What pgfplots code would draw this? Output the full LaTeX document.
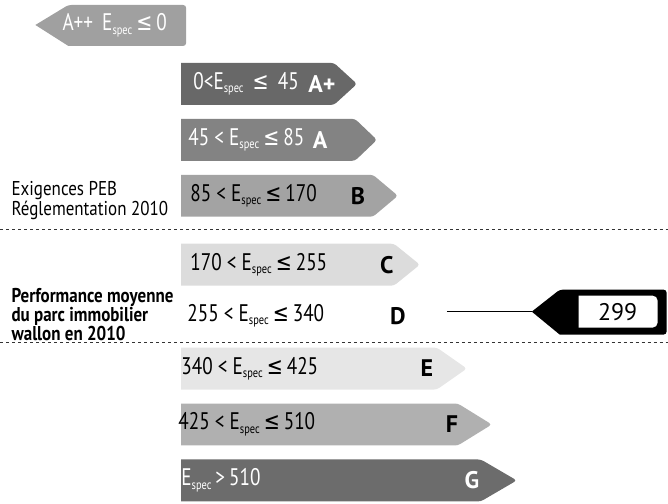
\documentclass[border=0pt]{standalone}
\usepackage{pgfplots}
\pgfplotsset{compat=1.18}
\usepackage{fontspec}
\setmainfont{PT Sans}[FakeStretch=0.8]
\newfontfamily\side{PT Sans}[FakeStretch=0.85]
\newfontfamily\wide{PT Sans}
\newfontfamily\sym{DejaVu Sans}[FakeStretch=0.8]
\newcommand\Es{E\raisebox{-0.3ex}{\fontsize{13}{13}\selectfont spec}}
\newcommand\lesym{{\sym ≤}}
\tikzset{lbl/.style={font=\fontsize{24}{26}\selectfont, inner sep=0pt},
         cls/.style={font=\fontsize{24}{26}\selectfont\wide\bfseries, inner sep=0pt}}

\definecolor{cApp}{HTML}{A0A0A0}
\definecolor{cAp}{HTML}{686868}
\definecolor{cA}{HTML}{838383}
\definecolor{cB}{HTML}{A3A3A3}
\definecolor{cC}{HTML}{DCDCDC}
\definecolor{cE}{HTML}{E6E6E6}
\definecolor{cF}{HTML}{B0B0B0}
\definecolor{cG}{HTML}{6C6C6C}

\begin{document}
\begin{tikzpicture}
\begin{axis}[
    width=668pt, height=504pt, scale only axis,
    xmin=0, xmax=668, ymin=0, ymax=504, y dir=reverse,
    hide axis, clip=false,
  ]
  \path (axis cs:0,0) (axis cs:668,504);

  % class arrows (pixel units, left edge at 180)
  \addplot[fill=cApp, draw=none, rounded corners=3pt] coordinates {(35,25) (68,5) (186,5) (186,46) (68,46)};
  \addplot[fill=cAp, draw=none, rounded corners=3pt] coordinates {(181,63) (334,63) (357,84) (334,105) (181,105)};
  \addplot[fill=cA,  draw=none, rounded corners=3pt] coordinates {(181,119) (355,119) (377,140) (355,161) (181,161)};
  \addplot[fill=cB,  draw=none, rounded corners=3pt] coordinates {(181,175) (373,175) (398,196) (373,217) (181,217)};
  \addplot[fill=cC,  draw=none, rounded corners=3pt] coordinates {(181,244) (394,244) (420,265) (394,286) (181,286)};
  \addplot[fill=cE,  draw=none, rounded corners=3pt] coordinates {(181,348) (437,348) (467,369) (437,390) (181,390)};
  \addplot[fill=cF,  draw=none, rounded corners=3pt] coordinates {(181,404) (458,404) (492,425) (458,446) (181,446)};
  \addplot[fill=cG,  draw=none, rounded corners=3pt] coordinates {(181,460) (481,460) (517,481) (481,502) (181,502)};

  % separators
  \addplot[black!80, dashed, line width=0.8pt] coordinates {(0,230) (668,230)};
  \addplot[black!80, dashed, line width=0.8pt] coordinates {(0,343) (668,343)};

  % marker for the 2010 average, 299
  \addplot[black, line width=0.6pt] coordinates {(447,312) (532,312)};
  \addplot[fill=black, draw=none, rounded corners=3pt] coordinates {(532,312) (560,290) (667,290) (667,335) (560,335)};
  \addplot[fill=white, draw=none, rounded corners=5pt] coordinates {(579,296) (658,296) (658,328) (579,328)};
  \node[lbl] at (axis cs:618,312) {\wide 299};

  % class labels
  \node[lbl, anchor=west, text=white] at (axis cs:62,25) {A++ \,\Es\,\lesym\,0};
  \node[lbl, anchor=west, text=white] at (axis cs:193,84) {0<\Es\, \lesym\, 45};
  \node[cls, text=white] at (axis cs:322,84) {A+};
  \node[lbl, anchor=west, text=white] at (axis cs:188,140) {45 < \Es\,\lesym\,85};
  \node[cls, text=white] at (axis cs:320,140) {A};
  \node[lbl, anchor=west] at (axis cs:190,196) {85 < \Es\,\lesym\,170};
  \node[cls] at (axis cs:358,196) {B};
  \node[lbl, anchor=west] at (axis cs:190,265) {170 < \Es\,\lesym\,255};
  \node[cls] at (axis cs:387,265) {C};
  \node[lbl, anchor=west] at (axis cs:187,316) {255 < \Es\,\lesym\,340};
  \node[cls] at (axis cs:398,316) {D};
  \node[lbl, anchor=west] at (axis cs:181,369) {340 < \Es\,\lesym\,425};
  \node[cls] at (axis cs:427,369) {E};
  \node[lbl, anchor=west] at (axis cs:178,425) {425 < \Es\,\lesym\,510};
  \node[cls] at (axis cs:452,425) {F};
  \node[lbl, anchor=west, text=white] at (axis cs:181,481) {\Es\,>\,510};
  \node[cls, text=white] at (axis cs:472,481) {G};

  % side notes
  \node[anchor=west, align=left, inner sep=0pt, font=\fontsize{20}{20}\selectfont\side] at (axis cs:11,201)
    {Exigences PEB\\Réglementation 2010};
  \node[anchor=west, align=left, inner sep=0pt, font=\fontsize{20}{19}\selectfont\side\bfseries] at (axis cs:11,315)
    {Performance moyenne\\du parc immobilier\\wallon en 2010};
\end{axis}
\end{tikzpicture}
\end{document}
